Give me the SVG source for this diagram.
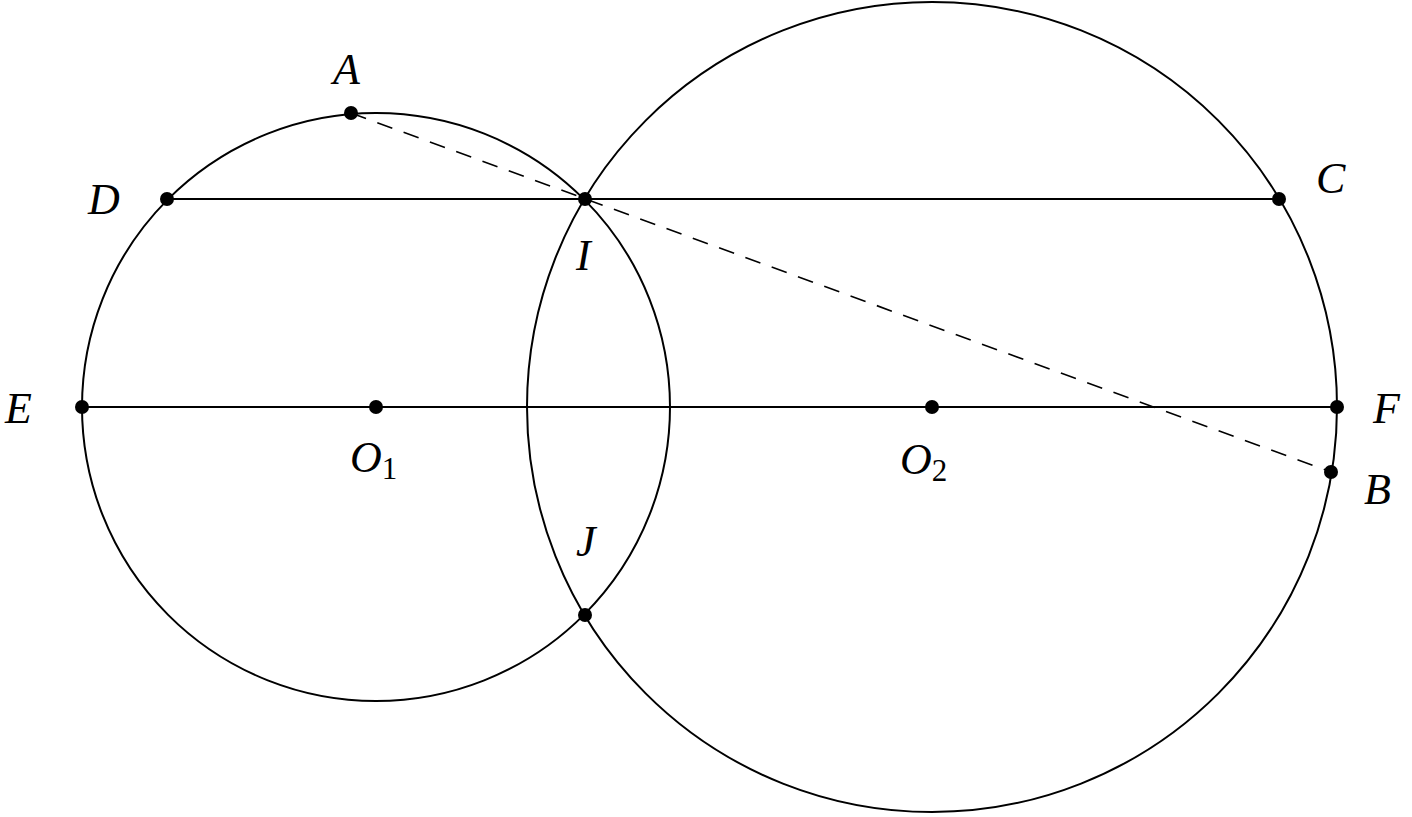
<svg xmlns="http://www.w3.org/2000/svg" width="1412" height="817" viewBox="0 0 1412 817">
<style>
.c{fill:none;stroke:#000;stroke-width:2}
.l{stroke:#000;stroke-width:2;fill:none}
.d{stroke:#000;stroke-width:1.6;stroke-dasharray:16 12;fill:none}
.p{fill:#000}
text{font-family:"Liberation Serif","DejaVu Serif",serif;font-style:italic;font-size:44px;fill:#000}
.s{font-style:normal;font-size:31px}
</style>
<rect width="1412" height="817" fill="#fff"/>
<g id="circle1"><circle class="c" cx="376" cy="407" r="294"/></g>
<g id="circle2"><circle class="c" cx="932" cy="407" r="405"/></g>
<g id="connectors">
<line class="l" x1="167" y1="199" x2="1279" y2="199"/>
<line class="l" x1="82" y1="407" x2="1337" y2="407"/>
<line class="d" x1="351" y1="113" x2="1331" y2="472"/>
</g>
<g id="points">
<circle class="p" cx="351" cy="113" r="7"/>
<circle class="p" cx="167" cy="199" r="7"/>
<circle class="p" cx="585" cy="199" r="7"/>
<circle class="p" cx="1279" cy="199" r="7"/>
<circle class="p" cx="82" cy="407" r="7"/>
<circle class="p" cx="376" cy="407" r="7"/>
<circle class="p" cx="932" cy="407" r="7"/>
<circle class="p" cx="1337" cy="407" r="7"/>
<circle class="p" cx="1331" cy="472" r="7"/>
<circle class="p" cx="585" cy="615" r="7"/>
</g>
<g id="labels">
<text x="333" y="84">A</text>
<text x="88" y="214">D</text>
<text x="1316" y="193">C</text>
<text x="576" y="270">I</text>
<text x="5" y="423">E</text>
<text x="350" y="472">O<tspan class="s" dy="7">1</tspan></text>
<text x="900" y="474">O<tspan class="s" dy="7">2</tspan></text>
<text x="1373" y="423">F</text>
<text x="1364" y="504">B</text>
<text x="576" y="556">J</text>
</g>
</svg>
